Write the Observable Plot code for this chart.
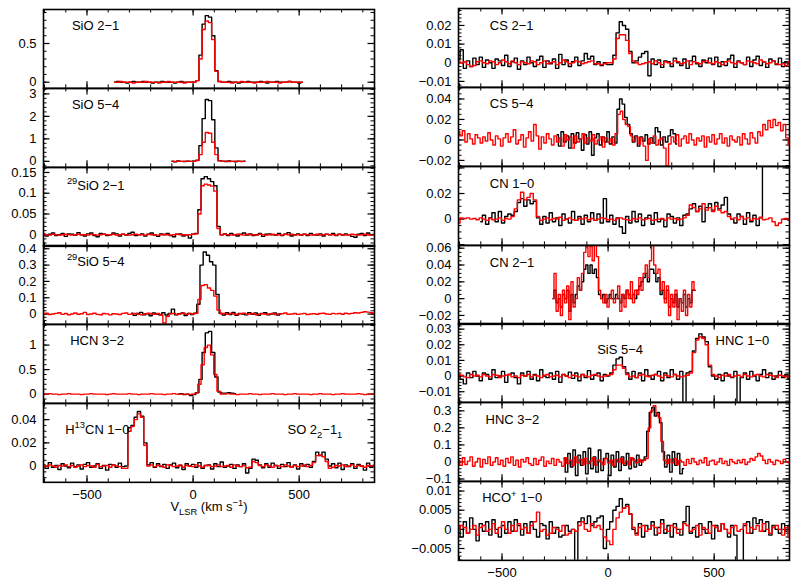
<!DOCTYPE html>
<html><head><meta charset="utf-8">
<script src="https://cdn.jsdelivr.net/npm/d3@7"></script>
<script src="https://cdn.jsdelivr.net/npm/@observablehq/plot@0.6"></script>
<style>
body{margin:0;background:#fff;}
#fig{position:relative;width:800px;height:587px;overflow:hidden;background:#fff;font-family:"Liberation Sans",Arial,sans-serif;}
#fig svg{position:absolute;overflow:visible;max-width:none;}
</style></head><body><div id="fig"></div>
<script>
// ---------------- DATA ----------------
const velocityDomain = [-705, 855];
const xMajorTicks = [-500, 0, 500];
const xMinorTicks = [-700,-600,-500,-400,-300,-200,-100,0,100,200,300,400,500,600,700,800];

// SiO 2-1 (unit 0.01), v0=-370, dv=15
const sio21_black = [0,1,0,0,-1,0,1,0,0,1,0,0,-1,0,0,1,0,0,0,-1,0,1,0,0,0,0,2,35,75,86,84,60,15,1,0,0,1,0,0,-1,0,0,1,0,0,0,1,0,-1,0,0,1,0,0,0,1,0,0,-1,0];
const sio21_red   = [0,0,1,0,0,0,-1,0,0,0,1,0,0,0,-1,0,0,1,0,0,0,0,-1,0,0,0,2,30,68,79,77,55,14,1,0,0,0,-1,0,0,1,0,0,0,-1,0,0,0,1,0,0,0,-1,0,0,1,0,0,0,0];
// SiO 5-4 (unit 0.01), v0=-100, dv=15
const sio54_black = [1,-2,2,0,-1,1,0,1,5,70,190,275,270,185,60,3,1,-1,2,0,-2,1,0,1];
const sio54_red   = [0,-1,1,0,0,1,0,0,3,30,85,128,125,85,30,2,0,1,-1,0,1,0,-1,0];
// 29SiO 2-1 (unit 0.001), v0=-705, dv=15
const si29o21_black = [2,-3,1,4,-2,0,3,-4,2,1,-1,5,0,-3,2,4,-2,-5,3,1,-2,0,4,2,-3,1,-1,3,6,-2,0,2,-3,1,4,-1,-4,2,0,3,-2,-5,1,2,-3,-1,-8,1,
  3,60,135,140,135,128,118,20,0,
  2,-2,3,0,-3,1,4,-1,2,-2,0,3,-4,1,2,0,-1,3,-2,1,5,-3,0,2,-1,1,-2,3,0,-1,2,-3,1,0,3,-2,1,-1,2,0,-4,-6,1,3,-2,4,0,1];
const si29o21_red = [1,0,-1,1,0,-1,0,1,0,-1,0,1,0,0,-1,1,0,-1,0,1,0,0,1,-1,0,1,0,-1,0,1,0,0,-1,1,0,0,-1,0,1,0,-1,0,1,0,0,-1,0,1,
  2,50,118,122,120,117,105,15,0,
  1,0,-1,0,1,0,-1,1,0,0,-1,1,0,-1,0,1,0,0,-1,1,0,1,-1,0,0,1,0,-1,0,1,-1,0,1,0,0,-1,1,0,-1,0,1,0,-1,0,1,0,-1,0];
// 29SiO 5-4 (unit 0.001), black v0=-290, red v0=-705, dv=15
const si29o54_black = [5,-8,3,10,-5,2,-10,6,0,-4,8,-6,3,30,-5,2,7,-9,4,-3,
  5,60,300,380,360,320,300,120,5,
  -6,8,-3,10,-8,4,0,-5,9,-2,6,-7,3,8,-4,0,7,-6,2];
const si29o54_red = [2,5,-3,0,4,8,-2,3,-4,0,6,-1,2,10,-3,0,5,-2,-4,3,1,-5,2,0,-3,4,6,-2,0,3,-1,-4,2,5,0,-2,3,-6,-55,-15,2,4,-3,1,5,-2,3,0,
  5,90,175,180,160,145,110,25,2,
  3,-2,4,0,-3,2,5,-1,0,3,-4,1,2,-2,0,4,-3,1,2,6,-1,0,3,-2,1,4,-3,0,2,-1,3,5,0,-2,4,1,3,-1,5,2,4,8,6,10,14,12,9,5];
// HCN 3-2 (unit 0.01), black v0=-70, red v0=-705, dv=15
const hcn32_black = [0,1,-1,0,-3,-1,3,30,85,125,128,85,35,4,2,2,3,2,1];
const hcn32_red = [0,0,1,0,0,-1,0,0,1,0,0,0,-1,0,0,1,0,0,0,0,-1,0,1,0,0,0,0,1,0,0,-1,0,0,0,1,0,0,0,-1,0,0,1,0,0,0,0,-1,0,
  2,20,60,95,100,80,40,6,0,
  0,1,0,0,-1,0,0,0,1,0,0,-1,0,0,0,1,0,0,0,-1,0,0,1,0,0,0,0,-1,0,0,1,0,0,0,-1,0,0,1,0,0,0,0,1,0,-1,0,0,0];
// H13CN 1-0 + SO 2_2-1_1 (unit 0.0001), v0=-705, dv=15
const h13cn10_black = [10,-20,30,-10,5,-30,20,0,-15,25,-5,10,-25,15,30,-10,0,20,-20,5,-35,15,10,-10,25,-5,
  0,330,350,420,470,430,200,10,
  30,-10,20,-5,15,-20,10,25,-15,5,-30,20,0,15,-10,30,-20,5,10,-25,20,-5,35,-10,0,15,-20,10,-5,20,-60,-20,
  60,50,10,-15,20,-10,25,5,-20,15,-5,30,-10,10,-25,20,0,15,-10,
  40,120,90,120,60,0,
  20,-15,25,-30,10,-5,20,-20,15,0,-35,25,-10,5];
const h13cn10_red = [5,-5,10,0,-10,5,0,10,-5,5,-10,0,10,-5,5,0,-10,15,-5,0,5,-10,10,0,-5,-20,
  -20,300,340,400,450,420,180,0,
  10,-5,5,0,-10,10,5,-5,0,10,-10,5,0,-5,10,0,-10,5,5,-5,0,10,-5,0,5,-10,10,0,-5,5,-15,-10,
  40,30,5,-5,10,0,-10,5,0,-5,10,0,-10,5,-5,0,10,-5,5,
  30,90,95,80,40,-20,
  -10,5,0,10,-5,0,10,-5,5,0,-10,5,0,5];
// CS 2-1 (unit 0.0001), v0=-705, dv=15
const cs21_black = [20,70,-30,10,-20,25,-10,30,-25,15,0,-30,20,10,-15,40,-20,5,25,-35,10,-10,30,0,-20,15,35,-25,10,-5,20,-30,45,-10,15,-20,5,30,-15,10,50,20,35,-10,5,-15,0,-10,
  -10,40,160,220,200,180,60,0,
  10,30,50,60,-70,20,-10,15,-25,10,5,-20,25,0,-15,20,-30,10,35,-5,-20,15,0,25,-10,30,-20,5,-15,20,40,-25,10,0,-10,30,-20,15,35,-15,5,-25,20,10,-10,25,-20,5,-5];
const cs21_red = [10,0,5,-10,-20,-15,5,10,0,-5,10,5,-10,0,15,5,-5,10,0,-10,5,0,-5,10,5,-10,0,10,-5,0,5,-10,0,15,5,-5,0,10,5,-5,0,5,10,-5,-5,-10,-5,0,
  0,20,130,150,150,120,50,10,
  0,-10,-5,0,5,-5,10,0,-10,5,0,-5,10,5,-5,0,10,-10,5,0,-5,5,10,0,-5,5,0,-10,5,10,0,-5,5,0,-10,10,5,0,-5,15,5,-5,0,10,-5,-10,-5,-15,5];
// CS 5-4 (unit 0.0001), black v0=-240, red v0=-705, dv=12
const cs54_black = [50,-60,80,-20,40,-80,60,-30,70,10,-100,50,-40,80,-150,20,60,-50,30,-20,80,-40,30,-30,300,400,350,220,150,60,-20,40,-60,30,-10,50,-40,20,-30,120,80,-50,30,-20,40,100,60,-40];
const cs54_red = [80,40,90,-20,60,10,-40,50,20,-30,30,-10,70,0,-50,40,10,-60,20,60,-20,30,100,-40,0,50,-70,20,80,-10,
  150,40,-90,30,-30,60,10,-50,40,-20,20,-60,50,0,30,-80,40,-20,10,60,-30,20,-10,50,-40,0,30,-70,20,-20,
  10,-50,60,250,280,200,150,130,40,-10,
  30,-40,20,-60,-200,10,-30,40,-50,0,20,-80,-250,-40,30,-20,50,-60,10,40,-30,60,0,-50,20,-10,40,-70,30,-20,
  50,-40,10,60,-30,20,-60,40,0,-20,30,-50,60,10,-40,70,20,-30,80,40,150,100,190,120,200,140,170,90,150,20,-50];
// CN 1-0 (unit 0.0001), black v0=-600, red v0=-705, dv=15
const cn10_black = [-20,30,-40,10,50,-20,60,-30,20,40,
  30,60,130,160,100,150,120,140,10,
  -40,20,-30,50,-20,10,-50,40,0,-30,60,-10,20,-40,30,-20,50,-10,40,-30,160,-20,30,-40,10,-60,-110,20,-30,60,-20,40,-50,10,30,-40,50,-20,0,-60,40,20,-30,10,-50,30,
  40,80,120,60,100,-20,90,120,70,130,80,110,170,40,0,
  -30,40,20,-40,50,-20,30,-50,10,500];
const cn10_red = [-30,10,5,10,0,5,-5,10,0,-10,5,-5,0,10,-10,5,0,
  20,80,150,210,150,170,200,150,20,
  -10,0,10,-5,5,0,15,-10,0,10,-5,-10,5,0,10,-5,5,-10,0,10,5,-5,0,-10,5,10,0,-5,-10,5,0,10,-5,0,5,-10,-5,0,5,-10,10,0,5,-5,0,10,
  30,110,90,60,80,120,70,90,60,100,70,50,60,20,0,
  10,-5,20,0,10,-10,5,0,15,-5,0,10,-20,-50,-30,0,5,-10];
// CN 2-1 (unit 0.001), v0=-260, dv=10
const cn21_black = [0,10,-5,0,-10,5,0,10,-15,5,-5,5,15,10,20,35,40,30,40,30,35,25,5,0,5,-5,0,5,0,0,5,0,-5,5,0,10,5,0,5,0,10,15,20,25,30,20,35,35,30,20,25,5,10,0,10,-10,0,-5,5,-10,0,-5,5,-10,0,-5,10,10];
const cn21_red = [0,30,-15,5,-20,10,-5,15,-25,20,-10,0,25,10,30,55,65,50,62,45,65,50,10,0,-5,5,-10,0,10,-5,0,15,-15,5,-10,10,0,20,-5,10,5,25,10,30,40,25,45,65,40,30,35,10,20,-5,15,-20,5,-10,10,-25,0,-15,10,-20,5,-10,20,10];
// HNC 1-0 + SiS 5-4 (unit 0.0001), v0=-705, dv=15
const hnc10_black = [10,-20,-50,20,-10,30,0,-30,20,10,-20,40,-10,0,30,-40,10,20,-10,-50,20,0,30,-20,10,-30,40,0,-10,20,-20,30,-40,10,0,25,-15,20,-30,10,-10,35,-20,5,20,-30,10,0,
  20,70,110,120,60,20,
  -20,30,-10,20,-30,40,0,-20,10,30,-30,20,-10,40,10,-20,30,-170,20,
  30,160,240,270,250,220,60,0,
  -20,10,-30,20,0,-10,30,-170,-10,20,-20,30,0,-30,10,40,-10,20,-20,0,30,-10,10,-20];
const hnc10_red = [10,5,-5,-10,10,0,5,-5,10,0,-5,10,5,-10,0,5,10,-5,0,-10,5,0,10,-5,5,0,-10,5,10,-5,0,5,-5,10,0,-10,5,0,-5,10,0,-5,5,10,0,-5,0,5,
  10,40,70,70,50,10,
  -5,0,-10,5,10,0,-5,5,10,0,-10,5,0,-5,10,0,-5,0,5,
  20,150,230,250,240,200,70,10,
  0,-10,5,0,10,-5,0,5,-5,10,0,-5,5,10,0,-5,10,5,0,-10,5,0,-5,0];
// HNC 3-2 (unit 0.001), black v0=-208, red v0=-705, dv=12
const hnc32_black = [20,-60,50,-30,70,-80,40,-20,60,-70,80,-40,30,-60,70,-50,20,50,-80,40,-30,60,-50,30,-20,50,-40,20,-30,40,-20,10,
  30,180,290,320,270,290,230,60,-30,
  40,-60,60,-20,50,-70,-40];
const hnc32_red = [10,-20,25,-15,5,30,-25,0,20,-30,15,-10,30,-20,0,25,-15,10,-25,20,-5,30,-20,10,-30,15,0,25,-10,-20,
  20,-15,10,30,-25,5,-10,20,-20,15,0,-25,25,-10,10,-20,30,-5,15,-15,20,-10,5,25,-20,10,0,-15,20,-5,
  10,-20,15,0,20,-10,5,-15,25,10,-5,15,0,10,20,200,300,330,280,260,
  120,10,-10,15,-5,20,-15,10,0,-20,15,-10,20,0,-15,10,-5,25,-20,5,10,-15,0,20,-10,5,-20,15,0,-10,
  10,-5,15,-15,0,20,10,30,50,35,10,-10,15,0,-15,10,5,-10,15,0,-5];
// HCO+ 1-0 (unit 0.0001), v0=-705, dv=15
const hco10_black = [10,-20,20,-10,30,0,-30,15,-5,20,-15,25,0,-20,10,-10,20,-5,25,10,-15,15,-10,20,0,-20,15,10,-25,20,-10,5,-20,-15,10,-5,0,-100,20,30,15,35,10,20,30,35,-50,0,
  20,50,60,80,55,65,40,0,
  -10,15,-20,10,0,20,-15,5,25,-10,10,-20,15,0,-15,20,60,-10,5,-20,15,0,-10,20,-25,10,-5,15,0,-20,10,-15,-100,-100,10,20,-10,30,15,25,-5,20,-15,10,0,-10,15,-5,10];
const hco10_red = [0,10,5,-10,0,10,-15,5,10,-5,0,15,-10,5,20,0,-10,10,-5,15,0,5,-10,10,20,45,-5,0,-15,-10,5,0,-5,10,-15,-10,0,-5,10,20,0,-5,15,5,10,0,-20,-30,
  -40,0,30,45,55,60,40,5,
  -15,5,10,-5,0,10,5,-10,15,0,-5,10,5,-10,0,15,10,-5,0,10,-15,5,0,-10,10,5,-5,15,0,-10,5,10,-5,0,15,-10,5,0,10,-5,15,0,-10,5,10,0,-15,5,-20];

// y-axis tick labels per panel
const sio21_ticks = [0, 0.5], sio54_ticks = [0, 1, 2, 3], si29o21_ticks = [0, 0.05, 0.1, 0.15],
  si29o54_ticks = [0, 0.1, 0.2, 0.3, 0.4], hcn32_ticks = [0, 0.5, 1], h13cn10_ticks = [0, 0.02, 0.04],
  cs21_ticks = [-0.01, 0, 0.01, 0.02], cs54_ticks = [-0.02, 0, 0.02, 0.04], cn10_ticks = [0, 0.02],
  cn21_ticks = [-0.02, 0, 0.02, 0.04, 0.06], hnc10_ticks = [-0.01, 0, 0.01, 0.02, 0.03],
  hnc32_ticks = [-0.1, 0, 0.1, 0.2, 0.3], hco10_ticks = [-0.005, 0, 0.005, 0.01];

// ---------------- BUILD ----------------
const spectrum = (v0, dv, vals, unit) => vals.map((y, i) => ({v: v0 + i * dv, y: y * unit}));

const panels = [
  {col: "left", row: 0, yDomain: [-0.079, 0.939], labels: sio21_ticks, major: 0.5, minor: 0.1,
   black: spectrum(-370, 15, sio21_black, 0.01), red: spectrum(-370, 15, sio21_red, 0.01),
   texts: [{t: "SiO 2−1", dx: 28.4, dy: 16.3}]},
  {col: "left", row: 1, yDomain: [-0.267, 3.24], labels: sio54_ticks, major: 1, minor: 0.2,
   black: spectrum(-100, 15, sio54_black, 0.01), red: spectrum(-100, 15, sio54_red, 0.01),
   texts: [{t: "SiO 5−4", dx: 28.4, dy: 16}]},
  {col: "left", row: 2, yDomain: [-0.028, 0.162], labels: si29o21_ticks, major: 0.05, minor: 0.01,
   black: spectrum(-705, 15, si29o21_black, 0.001), red: spectrum(-705, 15, si29o21_red, 0.001),
   texts: [{t: "^{29}SiO 2−1", dx: 23.4, dy: 18}]},
  {col: "left", row: 3, yDomain: [-0.063, 0.42], labels: si29o54_ticks, major: 0.1, minor: 0.02,
   black: spectrum(-290, 15, si29o54_black, 0.001), red: spectrum(-705, 15, si29o54_red, 0.001),
   texts: [{t: "^{29}SiO 5−4", dx: 23.4, dy: 16}]},
  {col: "left", row: 4, yDomain: [-0.188, 1.42], labels: hcn32_ticks, major: 0.5, minor: 0.1,
   black: spectrum(-70, 15, hcn32_black, 0.01), red: spectrum(-705, 15, hcn32_red, 0.01),
   texts: [{t: "HCN 3−2", dx: 26.7, dy: 16.5}]},
  {col: "left", row: 5, yDomain: [-0.014, 0.0539], labels: h13cn10_ticks, major: 0.02, minor: 0.005,
   black: spectrum(-705, 15, h13cn10_black, 0.0001), red: spectrum(-705, 15, h13cn10_red, 0.0001),
   texts: [{t: "H^{13}CN 1−0", dx: 21.7, dy: 26}, {t: "SO 2_{2}−1_{1}", dx: 244, dy: 26.3}],
   bottom: true, title: "V_{LSR} (km s^{−1})"},
  {col: "right", row: 0, yDomain: [-0.0132, 0.0291], labels: cs21_ticks, major: 0.01, minor: 0.002,
   black: spectrum(-705, 15, cs21_black, 0.0001), red: spectrum(-705, 15, cs21_red, 0.0001),
   texts: [{t: "CS 2−1", dx: 31.3, dy: 17.3}]},
  {col: "right", row: 1, yDomain: [-0.0258, 0.0512], labels: cs54_ticks, major: 0.02, minor: 0.005,
   black: spectrum(-240, 12, cs54_black, 0.0001), red: spectrum(-705, 12, cs54_red, 0.0001),
   texts: [{t: "CS 5−4", dx: 31.3, dy: 16.3}]},
  {col: "right", row: 2, yDomain: [-0.0205, 0.0411], labels: cn10_ticks, major: 0.02, minor: 0.005,
   black: spectrum(-600, 15, cn10_black, 0.0001), red: spectrum(-705, 15, cn10_red, 0.0001),
   texts: [{t: "CN 1−0", dx: 31.3, dy: 17.3}]},
  {col: "right", row: 3, yDomain: [-0.0306, 0.0632], labels: cn21_ticks, major: 0.02, minor: 0.005,
   black: spectrum(-260, 10, cn21_black, 0.001), red: spectrum(-260, 10, cn21_red, 0.001),
   texts: [{t: "CN 2−1", dx: 31.3, dy: 17}]},
  {col: "right", row: 4, yDomain: [-0.0168, 0.0336], labels: hnc10_ticks, major: 0.01, minor: 0.002,
   black: spectrum(-705, 15, hnc10_black, 0.0001), red: spectrum(-705, 15, hnc10_red, 0.0001),
   texts: [{t: "SiS 5−4", dx: 138.7, dy: 26.3}, {t: "HNC 1−0", dx: 257, dy: 17.4}]},
  {col: "right", row: 5, yDomain: [-0.114, 0.349], labels: hnc32_ticks, major: 0.1, minor: 0.02,
   black: spectrum(-208, 12, hnc32_black, 0.001), red: spectrum(-705, 12, hnc32_red, 0.001),
   texts: [{t: "HNC 3−2", dx: 27, dy: 16.9}]},
  {col: "right", row: 6, yDomain: [-0.0081, 0.0125], labels: hco10_ticks, major: 0.005, minor: 0.001,
   black: spectrum(-705, 15, hco10_black, 0.0001), red: spectrum(-705, 15, hco10_red, 0.0001),
   texts: [{t: "HCO^{+} 1−0", dx: 23.7, dy: 16.4}], bottom: true}
];

const layout = {
  left: {x: 43, w: 331, top: 9, h: 78.83},
  right: {x: 458, w: 331, top: 8, h: 78.86}
};

const fmt = d => d === 0 ? "0" : d3.format("")(d);
const FS = 13;

function stepTicks([a, b], step) {
  const k0 = Math.ceil(a / step - 1e-6), k1 = Math.floor(b / step + 1e-6);
  return d3.range(k0, k1 + 1).map(k => +(k * step).toFixed(6));
}

function richify(svg) {
  d3.select(svg).selectAll("text").each(function () {
    const s = this.textContent;
    if (!/[\^_]\{/.test(s)) return;
    const el = d3.select(this);
    const fs = FS;
    el.text(null);
    const re = /([\^_])\{([^}]*)\}|([^\^_]+)/g;
    let m, shift = 0;
    while ((m = re.exec(s))) {
      let target, size, txt;
      if (m[1]) { target = m[1] === "^" ? -0.42 * fs : 0.32 * fs; size = 0.72 * fs; txt = m[2]; }
      else { target = 0; size = fs; txt = m[3]; }
      el.append("tspan").attr("dy", target - shift).attr("font-size", size).text(txt);
      shift = target;
    }
  });
}

const fig = document.getElementById("fig");
const Lmaj = 6.5, Lmin = 3.5;

for (const p of panels) {
  const c = layout[p.col];
  const T = c.top + p.row * c.h, H = c.h, W = c.w;
  const ml = 55, mr = 10, mt = 6, mb = p.bottom ? 40 : 6;
  const yMajor = stepTicks(p.yDomain, p.major);
  const yMinor = stepTicks(p.yDomain, p.minor);
  const marks = [
    Plot.ruleX(xMinorTicks, {x: d => d, insetTop: H - Lmin, stroke: "#000", strokeWidth: 1}),
    Plot.ruleX(xMinorTicks, {x: d => d, insetBottom: H - Lmin, stroke: "#000", strokeWidth: 1}),
    Plot.ruleX(xMajorTicks, {x: d => d, insetTop: H - Lmaj, stroke: "#000", strokeWidth: 1.2}),
    Plot.ruleX(xMajorTicks, {x: d => d, insetBottom: H - Lmaj, stroke: "#000", strokeWidth: 1.2}),
    Plot.ruleY(yMinor, {y: d => d, insetRight: W - Lmin, stroke: "#000", strokeWidth: 1}),
    Plot.ruleY(yMinor, {y: d => d, insetLeft: W - Lmin, stroke: "#000", strokeWidth: 1}),
    Plot.ruleY(yMajor, {y: d => d, insetRight: W - Lmaj, stroke: "#000", strokeWidth: 1.2}),
    Plot.ruleY(yMajor, {y: d => d, insetLeft: W - Lmaj, stroke: "#000", strokeWidth: 1.2}),
    Plot.line(p.black, {x: "v", y: "y", curve: "step", stroke: "#000", strokeWidth: 1.4, clip: true}),
    Plot.line(p.red, {x: "v", y: "y", curve: "step", stroke: "#ff0000", strokeWidth: 1.4, clip: true}),
    Plot.frame({stroke: "#000", strokeWidth: 1.6}),
    Plot.axisY(p.labels, {anchor: "left", tickSize: 0, tickPadding: 7, tickFormat: fmt, fontSize: FS, label: null})
  ];
  if (p.bottom) {
    marks.push(Plot.axisX(xMajorTicks, {anchor: "bottom", tickSize: 0, tickPadding: 7, tickFormat: fmt, fontSize: FS, label: null}));
  }
  for (const t of p.texts) {
    marks.push(Plot.text([t.t], {text: d => d, frameAnchor: "top-left", lineAnchor: "middle", dx: t.dx, dy: t.dy, textAnchor: "start", fontSize: FS, fill: "#000"}));
  }
  if (p.title) {
    marks.push(Plot.text([p.title], {text: d => d, frameAnchor: "bottom", lineAnchor: "middle", dy: 24.5, textAnchor: "middle", fontSize: FS, fill: "#000"}));
  }
  const svg = Plot.plot({
    width: ml + W + mr, height: mt + H + mb,
    marginLeft: ml, marginRight: mr, marginTop: mt, marginBottom: mb,
    x: {domain: velocityDomain, axis: null},
    y: {domain: p.yDomain, axis: null},
    style: {background: "transparent", overflow: "visible", fontFamily: "'Liberation Sans', Arial, sans-serif", fontSize: FS + "px", color: "#000"},
    marks
  });
  richify(svg);
  svg.style.left = (c.x - ml) + "px";
  svg.style.top = (T - mt) + "px";
  fig.appendChild(svg);
}
</script>
</body></html>
